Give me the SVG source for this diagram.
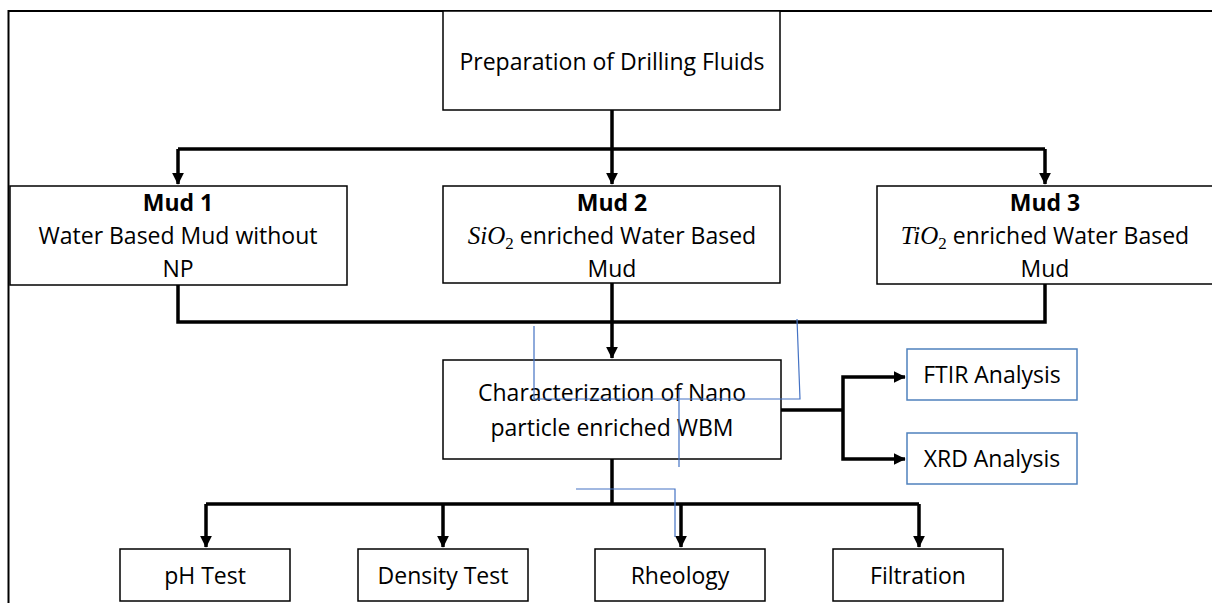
<svg xmlns="http://www.w3.org/2000/svg" width="1212" height="603" viewBox="0 0 1212 603">
<style>
.box{fill:#fff;stroke:#000;stroke-width:1.5}
.bbox{fill:#fff;stroke:#4F81BD;stroke-width:1.5}
.t{font-family:"Open Sans","Liberation Sans",sans-serif;font-size:23px;fill:#000;text-anchor:middle}
.b{font-weight:bold}
.m{font-family:"Liberation Serif",serif;font-style:italic;font-size:25px}
.s{font-family:"Liberation Serif",serif;font-size:17px}
.c{fill:none;stroke:#000;stroke-width:3.5}
.blue{fill:none;stroke:#4472C4;stroke-width:1.2}
</style>
<defs>
<marker id="ah" markerWidth="4" markerHeight="4" refX="3.2" refY="2" orient="auto" markerUnits="strokeWidth">
<path d="M0,0.3 L3.4,2 L0,3.7 Z" fill="#000"/>
</marker>
</defs>
<rect width="1212" height="603" fill="#fff"/>
<path d="M8.5,603 V11 H1212" fill="none" stroke="#000" stroke-width="2"/>

<g id="connectors">
<path class="c" d="M612,110 V149"/>
<path class="c" d="M178,149 H1045"/>
<path class="c" d="M178,149 V184" marker-end="url(#ah)"/>
<path class="c" d="M612,149 V184" marker-end="url(#ah)"/>
<path class="c" d="M1045,149 V184" marker-end="url(#ah)"/>
<path class="c" d="M178,285 V322 H1045 V284"/>
<path class="c" d="M612,283 V358" marker-end="url(#ah)"/>
<path class="c" d="M781,410 H843"/>
<path class="c" d="M843,410 V377 H905" marker-end="url(#ah)"/>
<path class="c" d="M843,410 V459 H905" marker-end="url(#ah)"/>
<path class="c" d="M612,459 V504"/>
<path class="c" d="M206,504 H919"/>
<path class="c" d="M206,504 V547" marker-end="url(#ah)"/>
<path class="c" d="M443,504 V547" marker-end="url(#ah)"/>
<path class="c" d="M681,504 V547" marker-end="url(#ah)"/>
<path class="c" d="M919,504 V547" marker-end="url(#ah)"/>
</g>

<g id="prep">
<rect class="box" x="443" y="11" width="337" height="99"/>
<text class="t" x="612" y="70">Preparation of Drilling Fluids</text>
</g>

<g id="mud1">
<rect class="box" x="10" y="186" width="337" height="99"/>
<text class="t b" x="178" y="211">Mud 1</text>
<text class="t" x="178" y="244">Water Based Mud without</text>
<text class="t" x="178" y="277">NP</text>
</g>

<g id="mud2">
<rect class="box" x="443" y="186" width="337" height="97"/>
<text class="t b" x="612" y="211">Mud 2</text>
<text class="t" x="612" y="244"><tspan class="m">SiO</tspan><tspan class="s" dy="5">2</tspan><tspan dy="-5"> enriched Water Based</tspan></text>
<text class="t" x="612" y="277">Mud</text>
</g>

<g id="mud3">
<rect class="box" x="877" y="186" width="340" height="98"/>
<text class="t b" x="1045" y="211">Mud 3</text>
<text class="t" x="1045" y="244"><tspan class="m">TiO</tspan><tspan class="s" dy="5">2</tspan><tspan dy="-5"> enriched Water Based</tspan></text>
<text class="t" x="1045" y="277">Mud</text>
</g>

<g id="char">
<rect class="box" x="443" y="360" width="338" height="99"/>
<text class="t" x="612" y="401">Characterization of Nano</text>
<text class="t" x="612" y="436">particle enriched WBM</text>
</g>

<g id="ftir">
<rect class="bbox" x="907" y="349" width="170" height="51"/>
<text class="t" x="992" y="383">FTIR Analysis</text>
</g>

<g id="xrd">
<rect class="bbox" x="907" y="433" width="170" height="51"/>
<text class="t" x="992" y="467">XRD Analysis</text>
</g>

<g id="ph">
<rect class="box" x="120" y="549" width="170" height="52"/>
<text class="t" x="205" y="584">pH Test</text>
</g>

<g id="density">
<rect class="box" x="358" y="549" width="170" height="52"/>
<text class="t" x="443" y="584">Density Test</text>
</g>

<g id="rheology">
<rect class="box" x="595" y="549" width="170" height="52"/>
<text class="t" x="680" y="584">Rheology</text>
</g>

<g id="filtration">
<rect class="box" x="833" y="549" width="170" height="52"/>
<text class="t" x="918" y="584">Filtration</text>
</g>

<g id="blue-lines">
<path class="blue" d="M534,326 V399 H800 L797,319"/>
<path class="blue" d="M679,390 V467"/>
<path class="blue" d="M576,489 H675 V537"/>
</g>
</svg>
